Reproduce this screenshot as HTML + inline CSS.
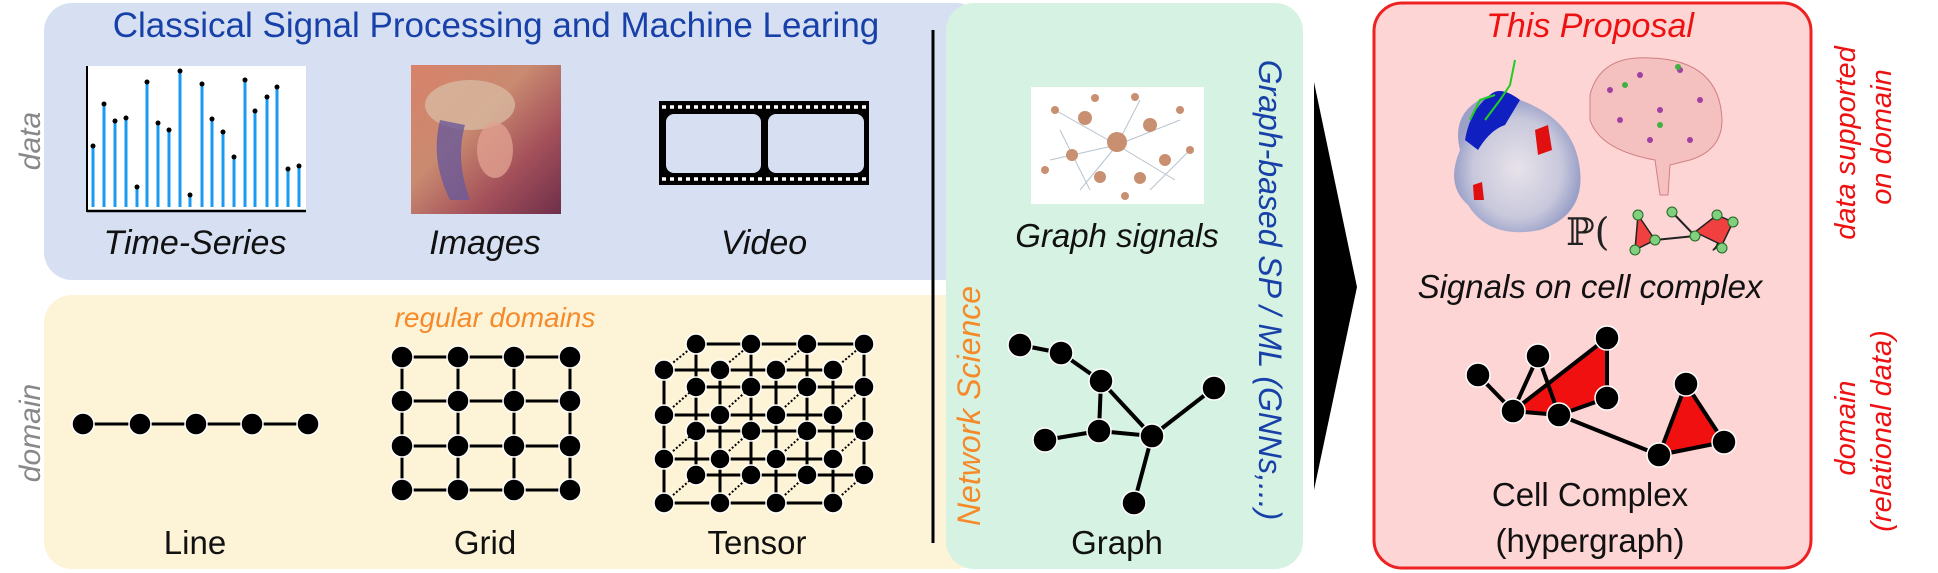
<!DOCTYPE html>
<html><head><meta charset="utf-8"><style>
html,body{margin:0;padding:0;background:#fff;}
svg{display:block;font-family:"Liberation Sans",sans-serif;}
</style></head><body>
<svg width="1938" height="573" viewBox="0 0 1938 573" xmlns="http://www.w3.org/2000/svg">
<defs>
<linearGradient id="lena" x1="0" y1="0" x2="1" y2="1">
<stop offset="0" stop-color="#d9826a"/><stop offset="0.4" stop-color="#c98a70"/><stop offset="0.7" stop-color="#a4505a"/><stop offset="1" stop-color="#6e2f4a"/>
</linearGradient>
<radialGradient id="prot" cx="0.5" cy="0.55" r="0.5">
<stop offset="0" stop-color="#e8e2ea"/><stop offset="0.7" stop-color="#c8c8dc"/><stop offset="1" stop-color="#9aa0c8"/>
</radialGradient>
</defs>
<!-- panels -->
<rect x="44" y="3" width="940" height="277" rx="28" fill="#d6e0f2"/>
<rect x="44" y="295" width="940" height="274" rx="28" fill="#fdf3d6"/>
<rect x="946" y="3" width="357" height="566" rx="28" fill="#d6f2e2"/>
<rect x="1374" y="3" width="437" height="565" rx="28" fill="#fdd5d5" stroke="#ee2222" stroke-width="3"/>
<line x1="933" y1="30" x2="933" y2="543" stroke="#000" stroke-width="3"/>
<polygon points="1314,82 1357,287 1314,490" fill="#000"/>

<text x="496" y="37" font-size="35" fill="#1740a8" text-anchor="middle">Classical Signal Processing and Machine Learing</text>
<text transform="translate(40,141) rotate(-90)" font-size="30" fill="#888" font-style="italic" text-anchor="middle">data</text>
<text transform="translate(40,433) rotate(-90)" font-size="30" fill="#888" font-style="italic" text-anchor="middle">domain</text>

<!-- time series -->
<rect x="87" y="66" width="219" height="146" fill="#fff"/>
<line x1="87" y1="66" x2="87" y2="212" stroke="#000" stroke-width="2"/>
<line x1="87" y1="211" x2="306" y2="211" stroke="#000" stroke-width="2.5"/>
<g stroke="#1a9af0" stroke-width="3" fill="#000">
<line x1="93" y1="146" x2="93" y2="207"/><line x1="104" y1="104" x2="104" y2="207"/><line x1="115" y1="121" x2="115" y2="207"/><line x1="126" y1="118" x2="126" y2="207"/><line x1="137" y1="187" x2="137" y2="207"/><line x1="147" y1="82" x2="147" y2="207"/><line x1="158" y1="123" x2="158" y2="207"/><line x1="169" y1="130" x2="169" y2="207"/><line x1="180" y1="71" x2="180" y2="207"/><line x1="190" y1="195" x2="190" y2="207"/><line x1="202" y1="84" x2="202" y2="207"/><line x1="212" y1="119" x2="212" y2="207"/><line x1="223" y1="132" x2="223" y2="207"/><line x1="234" y1="157" x2="234" y2="207"/><line x1="245" y1="80" x2="245" y2="207"/><line x1="255" y1="111" x2="255" y2="207"/><line x1="267" y1="97" x2="267" y2="207"/><line x1="277" y1="87" x2="277" y2="207"/><line x1="288" y1="169" x2="288" y2="207"/><line x1="299" y1="166" x2="299" y2="207"/>
</g>
<g fill="#000">
<circle cx="93" cy="146" r="2.5"/><circle cx="104" cy="104" r="2.5"/><circle cx="115" cy="121" r="2.5"/><circle cx="126" cy="118" r="2.5"/><circle cx="137" cy="187" r="2.5"/><circle cx="147" cy="82" r="2.5"/><circle cx="158" cy="123" r="2.5"/><circle cx="169" cy="130" r="2.5"/><circle cx="180" cy="71" r="2.5"/><circle cx="190" cy="195" r="2.5"/><circle cx="202" cy="84" r="2.5"/><circle cx="212" cy="119" r="2.5"/><circle cx="223" cy="132" r="2.5"/><circle cx="234" cy="157" r="2.5"/><circle cx="245" cy="80" r="2.5"/><circle cx="255" cy="111" r="2.5"/><circle cx="267" cy="97" r="2.5"/><circle cx="277" cy="87" r="2.5"/><circle cx="288" cy="169" r="2.5"/><circle cx="299" cy="166" r="2.5"/>
</g>
<!-- image -->
<rect x="411" y="65" width="150" height="149" fill="url(#lena)"/>
<ellipse cx="470" cy="105" rx="45" ry="25" fill="#d8b8a0" opacity="0.8"/>
<path d="M440,120 Q430,160 450,200 L470,200 Q455,160 465,125Z" fill="#6a5a9a" opacity="0.8"/>
<ellipse cx="495" cy="150" rx="18" ry="28" fill="#e0a090" opacity="0.8"/>
<!-- film -->
<rect x="659" y="101" width="210" height="84" fill="#000"/>
<g fill="#fff">
<rect x="666" y="106" width="196" height="6" fill="none"/>
</g>
<g stroke="#fff" stroke-width="3.5" stroke-dasharray="4,4"><line x1="662" y1="107" x2="868" y2="107"/><line x1="662" y1="179" x2="868" y2="179"/></g>
<rect x="666" y="114" width="95" height="59" rx="8" fill="#d6e0f2"/>
<rect x="768" y="114" width="96" height="59" rx="8" fill="#d6e0f2"/>
<g font-size="34" font-style="italic" text-anchor="middle" fill="#111">
<text x="195" y="254">Time-Series</text><text x="485" y="254">Images</text><text x="764" y="254">Video</text>
</g>

<text x="495" y="327" font-size="28" fill="#f58a2a" font-style="italic" text-anchor="middle">regular domains</text>
<!-- line -->
<g stroke="#000" stroke-width="3"><line x1="83" y1="424" x2="308" y2="424"/></g>
<g fill="#000" stroke="#fff" stroke-width="1.5"><circle cx="83" cy="424" r="11"/><circle cx="140" cy="424" r="11"/><circle cx="196" cy="424" r="11"/><circle cx="252" cy="424" r="11"/><circle cx="308" cy="424" r="11"/></g>
<!-- grid -->
<g stroke="#000" stroke-width="3">
<line x1="402" y1="357" x2="570" y2="357"/><line x1="402" y1="401" x2="570" y2="401"/><line x1="402" y1="446" x2="570" y2="446"/><line x1="402" y1="490" x2="570" y2="490"/>
<line x1="402" y1="357" x2="402" y2="490"/><line x1="458" y1="357" x2="458" y2="490"/><line x1="514" y1="357" x2="514" y2="490"/><line x1="570" y1="357" x2="570" y2="490"/>
</g>
<g fill="#000" stroke="#fff" stroke-width="1.5">
<circle cx="402" cy="357" r="11"/><circle cx="458" cy="357" r="11"/><circle cx="514" cy="357" r="11"/><circle cx="570" cy="357" r="11"/>
<circle cx="402" cy="401" r="11"/><circle cx="458" cy="401" r="11"/><circle cx="514" cy="401" r="11"/><circle cx="570" cy="401" r="11"/>
<circle cx="402" cy="446" r="11"/><circle cx="458" cy="446" r="11"/><circle cx="514" cy="446" r="11"/><circle cx="570" cy="446" r="11"/>
<circle cx="402" cy="490" r="11"/><circle cx="458" cy="490" r="11"/><circle cx="514" cy="490" r="11"/><circle cx="570" cy="490" r="11"/>
</g>
<!-- tensor back layer -->
<g stroke="#000" stroke-width="3">
<line x1="696" y1="344" x2="864" y2="344"/><line x1="696" y1="387" x2="864" y2="387"/><line x1="696" y1="431" x2="864" y2="431"/><line x1="696" y1="475" x2="864" y2="475"/>
<line x1="696" y1="344" x2="696" y2="475"/><line x1="751" y1="344" x2="751" y2="475"/><line x1="807" y1="344" x2="807" y2="475"/><line x1="864" y1="344" x2="864" y2="475"/>
</g>
<g fill="#000" stroke="#fff" stroke-width="1.5">
<circle cx="696" cy="344" r="10"/><circle cx="751" cy="344" r="10"/><circle cx="807" cy="344" r="10"/><circle cx="864" cy="344" r="10"/>
<circle cx="696" cy="387" r="10"/><circle cx="751" cy="387" r="10"/><circle cx="807" cy="387" r="10"/><circle cx="864" cy="387" r="10"/>
<circle cx="696" cy="431" r="10"/><circle cx="751" cy="431" r="10"/><circle cx="807" cy="431" r="10"/><circle cx="864" cy="431" r="10"/>
<circle cx="696" cy="475" r="10"/><circle cx="751" cy="475" r="10"/><circle cx="807" cy="475" r="10"/><circle cx="864" cy="475" r="10"/>
</g>
<g stroke="#000" stroke-width="2" stroke-dasharray="2,2">
<line x1="664" y1="370" x2="696" y2="344"/><line x1="720" y1="370" x2="751" y2="344"/><line x1="776" y1="370" x2="807" y2="344"/><line x1="833" y1="370" x2="864" y2="344"/>
<line x1="664" y1="415" x2="696" y2="387"/><line x1="720" y1="415" x2="751" y2="387"/><line x1="776" y1="415" x2="807" y2="387"/><line x1="833" y1="415" x2="864" y2="387"/>
<line x1="664" y1="459" x2="696" y2="431"/><line x1="720" y1="459" x2="751" y2="431"/><line x1="776" y1="459" x2="807" y2="431"/><line x1="833" y1="459" x2="864" y2="431"/>
<line x1="664" y1="503" x2="696" y2="475"/><line x1="720" y1="503" x2="751" y2="475"/><line x1="776" y1="503" x2="807" y2="475"/><line x1="833" y1="503" x2="864" y2="475"/>
</g>
<!-- tensor front -->
<g stroke="#000" stroke-width="3">
<line x1="664" y1="370" x2="833" y2="370"/><line x1="664" y1="415" x2="833" y2="415"/><line x1="664" y1="459" x2="833" y2="459"/><line x1="664" y1="503" x2="833" y2="503"/>
<line x1="664" y1="370" x2="664" y2="503"/><line x1="720" y1="370" x2="720" y2="503"/><line x1="776" y1="370" x2="776" y2="503"/><line x1="833" y1="370" x2="833" y2="503"/>
</g>
<g fill="#000" stroke="#fff" stroke-width="1.5">
<circle cx="664" cy="370" r="10"/><circle cx="720" cy="370" r="10"/><circle cx="776" cy="370" r="10"/><circle cx="833" cy="370" r="10"/>
<circle cx="664" cy="415" r="10"/><circle cx="720" cy="415" r="10"/><circle cx="776" cy="415" r="10"/><circle cx="833" cy="415" r="10"/>
<circle cx="664" cy="459" r="10"/><circle cx="720" cy="459" r="10"/><circle cx="776" cy="459" r="10"/><circle cx="833" cy="459" r="10"/>
<circle cx="664" cy="503" r="10"/><circle cx="720" cy="503" r="10"/><circle cx="776" cy="503" r="10"/><circle cx="833" cy="503" r="10"/>
</g>
<g font-size="33" text-anchor="middle" fill="#111">
<text x="195" y="554">Line</text><text x="485" y="554">Grid</text><text x="757" y="554">Tensor</text>
</g>

<!-- green panel -->
<rect x="1031" y="87" width="173" height="117" fill="#fff"/>
<g stroke="#9ab" stroke-width="1" opacity="0.7">
<line x1="1055" y1="110" x2="1117" y2="145"/><line x1="1117" y1="145" x2="1180" y2="120"/><line x1="1050" y1="160" x2="1117" y2="145"/><line x1="1117" y1="145" x2="1175" y2="180"/><line x1="1080" y1="190" x2="1117" y2="145"/><line x1="1117" y1="145" x2="1140" y2="100"/><line x1="1060" y1="130" x2="1090" y2="190"/><line x1="1150" y1="190" x2="1190" y2="150"/>
</g>
<g fill="#c89070">
<circle cx="1117" cy="142" r="10"/><circle cx="1085" cy="118" r="7"/><circle cx="1150" cy="125" r="7"/><circle cx="1072" cy="155" r="6"/><circle cx="1165" cy="160" r="6"/><circle cx="1100" cy="177" r="6"/><circle cx="1140" cy="178" r="6"/><circle cx="1055" cy="110" r="4"/><circle cx="1180" cy="110" r="4"/><circle cx="1045" cy="170" r="4"/><circle cx="1190" cy="150" r="4"/><circle cx="1095" cy="98" r="4"/><circle cx="1135" cy="97" r="4"/><circle cx="1125" cy="196" r="4"/>
</g>
<text x="1117" y="247" font-size="33" font-style="italic" text-anchor="middle" fill="#111">Graph signals</text>
<text transform="translate(980,406) rotate(-90)" font-size="32" font-style="italic" fill="#f58a2a" text-anchor="middle">Network Science</text>
<text transform="translate(1259,290) rotate(90)" font-size="32" font-style="italic" fill="#1740a8" text-anchor="middle">Graph-based SP / ML (GNNs,...)</text>
<g stroke="#000" stroke-width="4">
<line x1="1020" y1="345" x2="1061" y2="353"/><line x1="1061" y1="353" x2="1101" y2="381"/><line x1="1101" y1="381" x2="1099" y2="431"/><line x1="1101" y1="381" x2="1152" y2="436"/><line x1="1099" y1="431" x2="1045" y2="440"/><line x1="1099" y1="431" x2="1152" y2="436"/><line x1="1152" y1="436" x2="1214" y2="388"/><line x1="1152" y1="436" x2="1134" y2="503"/>
</g>
<g fill="#000" stroke="#fff" stroke-width="1.5">
<circle cx="1020" cy="345" r="12"/><circle cx="1061" cy="353" r="12"/><circle cx="1101" cy="381" r="12"/><circle cx="1214" cy="388" r="12"/><circle cx="1045" cy="440" r="12"/><circle cx="1099" cy="431" r="12"/><circle cx="1152" cy="436" r="12"/><circle cx="1134" cy="503" r="12"/>
</g>
<text x="1117" y="554" font-size="33" text-anchor="middle" fill="#111">Graph</text>

<!-- red panel -->
<text x="1590" y="37" font-size="34" font-style="italic" fill="#ee1111" text-anchor="middle">This Proposal</text>
<path d="M1460,150 Q1450,110 1490,95 Q1500,85 1520,100 Q1575,120 1580,170 Q1585,215 1540,230 Q1490,240 1468,205 Q1445,185 1460,150Z" fill="url(#prot)"/>
<path d="M1490,95 Q1500,85 1520,100 L1505,125 Q1490,130 1478,150 L1465,140 Q1470,110 1490,95Z" fill="#1020c0"/>
<path d="M1535,130 L1548,125 L1552,150 L1538,155Z" fill="#e01010"/>
<path d="M1473,185 L1482,182 L1484,200 L1474,200Z" fill="#e01010"/>
<path d="M1485,120 L1500,100 L1510,85 L1515,60" stroke="#22cc22" stroke-width="2" fill="none"/>
<path d="M1470,120 L1480,100 L1495,95" stroke="#22cc22" stroke-width="2" fill="none"/>
<path d="M1590,95 Q1600,55 1650,58 Q1720,60 1722,120 Q1722,150 1690,160 L1670,165 L1668,195 L1660,195 L1655,160 Q1600,150 1590,120Z" fill="#f4c0c0" stroke="#d08080" stroke-width="1"/>
<g fill="#a040a0"><circle cx="1610" cy="90" r="3"/><circle cx="1640" cy="75" r="3"/><circle cx="1680" cy="70" r="3"/><circle cx="1700" cy="100" r="3"/><circle cx="1620" cy="120" r="3"/><circle cx="1660" cy="110" r="3"/><circle cx="1690" cy="140" r="3"/><circle cx="1650" cy="140" r="3"/></g>
<g fill="#40b040"><circle cx="1625" cy="85" r="3"/><circle cx="1678" cy="67" r="3"/><circle cx="1660" cy="125" r="3"/></g>
<text x="1566" y="245" font-size="38" font-family="DejaVu Serif, serif" fill="#222">ℙ(</text>
<text x="1710" y="245" font-size="38" font-family="DejaVu Serif, serif" fill="#222">)</text>
<polygon points="1638,215 1655,240 1635,250" fill="#f04040" stroke="#222" stroke-width="1.5"/>
<polygon points="1717,215 1733,222 1722,245 1695,232" fill="#f04040" stroke="#222" stroke-width="1.5"/>
<g stroke="#222" stroke-width="2"><line x1="1655" y1="240" x2="1695" y2="236"/><line x1="1672" y1="212" x2="1695" y2="236"/></g>
<g fill="#80d080" stroke="#226622" stroke-width="1"><circle cx="1638" cy="215" r="5"/><circle cx="1635" cy="250" r="5"/><circle cx="1655" cy="240" r="5"/><circle cx="1672" cy="212" r="5"/><circle cx="1695" cy="236" r="5"/><circle cx="1717" cy="215" r="5"/><circle cx="1733" cy="222" r="5"/><circle cx="1722" cy="248" r="5"/></g>
<text x="1590" y="298" font-size="33" font-style="italic" text-anchor="middle" fill="#111">Signals on cell complex</text>
<polygon points="1513,411 1607,338 1607,398 1559,415" fill="#f01010"/>
<polygon points="1686,384 1724,442 1659,455" fill="#f01010"/>
<g stroke="#000" stroke-width="4" fill="none">
<line x1="1478" y1="375" x2="1513" y2="411"/><line x1="1538" y1="356" x2="1513" y2="411"/><line x1="1538" y1="356" x2="1559" y2="415"/><line x1="1513" y1="411" x2="1559" y2="415"/><line x1="1513" y1="411" x2="1607" y2="338"/><line x1="1607" y1="338" x2="1607" y2="398"/><line x1="1607" y1="398" x2="1559" y2="415"/><line x1="1559" y1="415" x2="1659" y2="455"/><line x1="1686" y1="384" x2="1659" y2="455"/><line x1="1686" y1="384" x2="1724" y2="442"/><line x1="1724" y1="442" x2="1659" y2="455"/>
</g>
<g fill="#000" stroke="#fff" stroke-width="1.5">
<circle cx="1478" cy="375" r="12"/><circle cx="1538" cy="356" r="12"/><circle cx="1607" cy="338" r="12"/><circle cx="1607" cy="398" r="12"/><circle cx="1513" cy="411" r="12"/><circle cx="1559" cy="415" r="12"/><circle cx="1686" cy="384" r="12"/><circle cx="1724" cy="442" r="12"/><circle cx="1659" cy="455" r="12"/>
</g>
<g font-size="33" text-anchor="middle" fill="#111"><text x="1590" y="506">Cell Complex</text><text x="1590" y="552">(hypergraph)</text></g>
<g font-size="29" font-style="italic" fill="#ee1111" text-anchor="middle">
<text transform="translate(1855,143) rotate(-90)">data supported</text>
<text transform="translate(1891,137) rotate(-90)">on domain</text>
<text transform="translate(1855,428) rotate(-90)">domain</text>
<text transform="translate(1891,431) rotate(-90)">(relational data)</text>
</g>
</svg>
</body></html>
